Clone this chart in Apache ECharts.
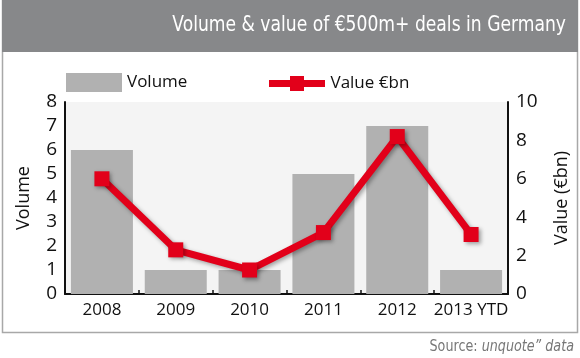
<!DOCTYPE html>
<html><head><meta charset="utf-8">
<script src="https://cdn.jsdelivr.net/npm/echarts@6/dist/echarts.min.js"></script>
<style>html,body{margin:0;padding:0;background:#fff}#c{width:580px;height:358px}</style>
</head><body><div id="c"></div>
<script>
const categories = ['2008','2009','2010','2011','2012','2013 YTD'];
const volume = [6, 1, 1, 5, 7, 1];
const valueBn = [6.0, 2.3, 1.25, 3.2, 8.2, 3.1];
const volumeTicks = [0,1,2,3,4,5,6,7,8];
const valueTicks = [0,2,4,6,8,10];

const FONT = '"Open Sans", "Noto Sans", sans-serif';
const COND = '"DejaVu Sans", sans-serif';
const chart = echarts.init(document.getElementById('c'), null, {renderer:'canvas'});
chart.setOption({
  animation:false,
  backgroundColor:'#fff',
  graphic:[
    {type:'rect', z:-10, shape:{x:2.5,y:0.5,width:575,height:332}, style:{fill:'#fff', stroke:'#a8a8a8', lineWidth:1.5}},
    {type:'rect', z:-9, shape:{x:2,y:0,width:576,height:52}, style:{fill:'#87888a'}},
    {type:'text', x:566, y:25, scaleX:0.78, originX:0, originY:0,
     style:{text:'Volume & value of €500m+ deals in Germany', fill:'#fff', font:'22px '+COND, align:'right', verticalAlign:'middle'}},
    {type:'text', x:574, y:347, scaleX:0.85, originX:0, originY:0,
     style:{rich:{a:{fill:'#777', font:'15px '+COND}, b:{fill:'#777', font:'italic 15px '+COND}}, text:'{a|Source: }{b|unquote” data}', align:'right', verticalAlign:'middle'}}
  ],
  grid:{left:65, right:72, top:102, bottom:64, show:true, backgroundColor:'#f4f4f4', borderWidth:0},
  legend:[
    {top:68, left:61, itemWidth:56, itemHeight:19, textStyle:{fontFamily:FONT, fontSize:17, color:'#111'},
     data:[{name:'Volume', icon:'rect'}]},
    {top:70, left:264, itemWidth:57, itemHeight:15, textStyle:{fontFamily:FONT, fontSize:17, color:'#111'},
     data:[{name:'Value €bn', icon:'path://M0,6H21V2H35V6H56V13H35V17H21V13H0Z'}]}
  ],
  xAxis:{
    type:'category', data:categories,
    axisLine:{lineStyle:{color:'#111', width:2}},
    axisTick:{show:true, inside:true, length:4, lineStyle:{color:'#111', width:1.5}},
    axisLabel:{fontFamily:FONT, fontSize:17, color:'#111', margin:8, interval:0}
  },
  yAxis:[
    {type:'value', min:0, max:8, interval:1, name:'Volume', nameLocation:'middle', nameGap:32, nameRotate:90,
     nameTextStyle:{fontFamily:FONT, fontSize:18, color:'#111'},
     axisLine:{show:true, lineStyle:{color:'#111', width:2}}, axisTick:{show:false}, splitLine:{show:false},
     axisLabel:{fontFamily:FONT, fontSize:19, color:'#111', margin:8}},
    {type:'value', min:0, max:10, interval:2, name:'Value (€bn)', nameLocation:'middle', nameGap:45, nameRotate:90,
     nameTextStyle:{fontFamily:FONT, fontSize:18, color:'#111'},
     axisLine:{show:true, lineStyle:{color:'#111', width:2}}, axisTick:{show:false}, splitLine:{show:false},
     axisLabel:{fontFamily:FONT, fontSize:19, color:'#111', margin:8}}
  ],
  series:[
    {name:'Volume', type:'bar', data:volume, barWidth:'84%', itemStyle:{color:'#b1b1b1'}},
    {name:'Value €bn', type:'line', yAxisIndex:1, data:valueBn, symbol:'rect', symbolSize:15,
     lineStyle:{color:'#e2001a', width:7, shadowColor:'rgba(0,0,0,0.35)', shadowBlur:4, shadowOffsetX:2, shadowOffsetY:2},
     itemStyle:{color:'#e2001a', shadowColor:'rgba(0,0,0,0.35)', shadowBlur:4, shadowOffsetX:2, shadowOffsetY:2}}
  ]
});
</script></body></html>
